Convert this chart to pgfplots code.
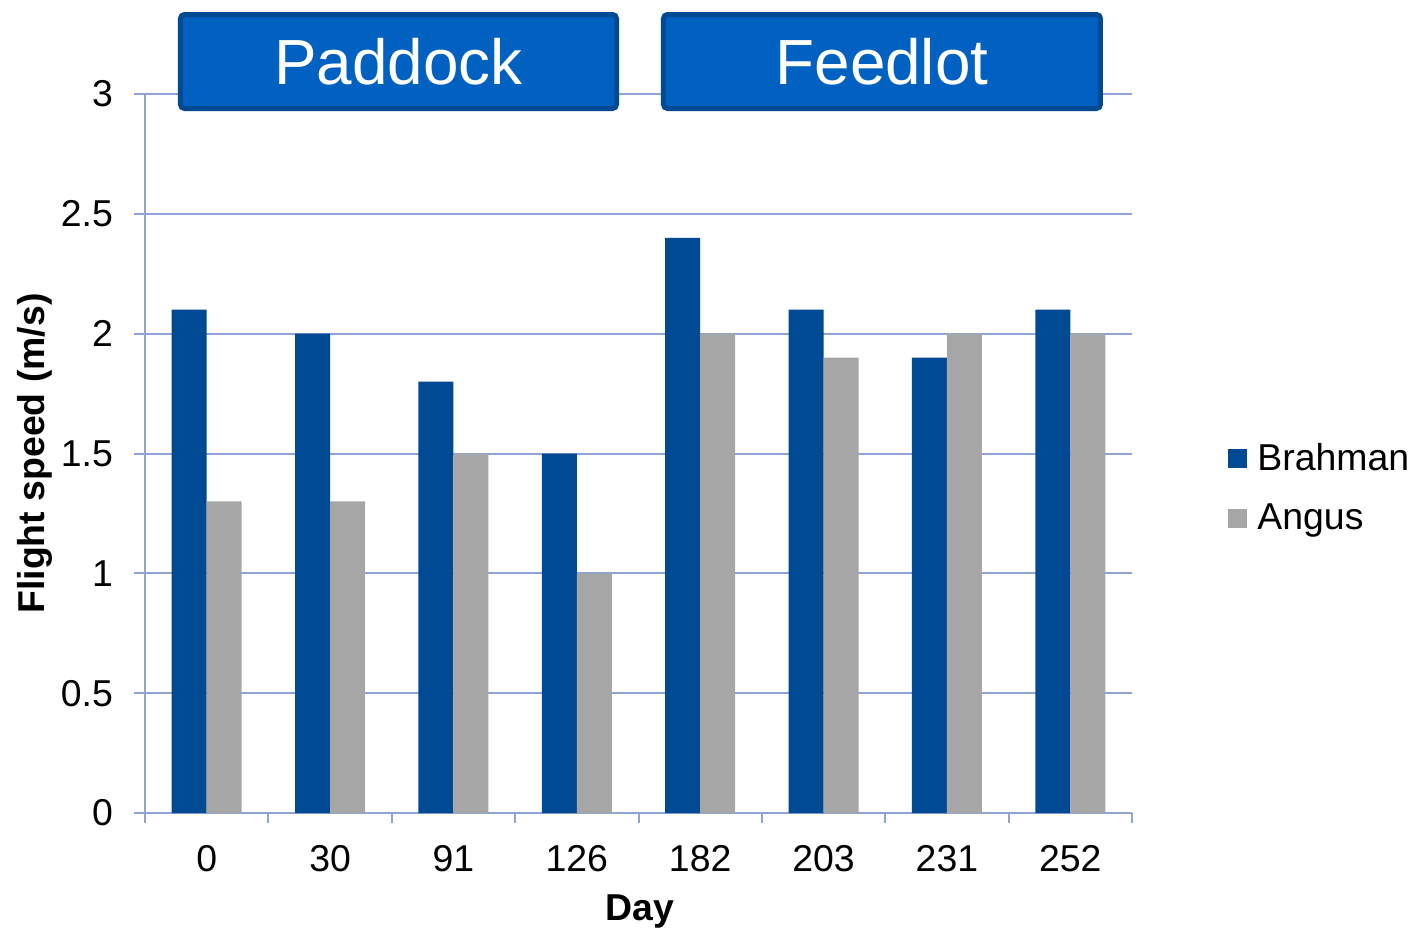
\documentclass[border=0pt]{standalone}
\usepackage{pgfplots}
\pgfplotsset{compat=1.18}
\usepackage{fontspec}
\setmainfont{Liberation Sans}
\definecolor{brah}{RGB}{0,74,148}
\definecolor{ang}{RGB}{166,166,166}
\definecolor{gridc}{RGB}{143,163,214}
\definecolor{boxfill}{RGB}{0,97,193}
\definecolor{boxdraw}{RGB}{0,74,148}
\newcommand{\fs}{\fontsize{18.7}{22}\selectfont}
\begin{document}
\begin{tikzpicture}
\useasboundingbox (-72.5pt,-57pt) rectangle (635.5pt,406.5pt);
\begin{axis}[
  at={(0,0)}, anchor=south west,
  scale only axis, width=493.5pt, height=359.5pt,
  clip=false,
  ybar=0pt, bar width=17.5pt,
  xmin=-0.5, xmax=7.5, ymin=0, ymax=3,
  enlarge x limits=false,
  xtick={0,...,7},
  xticklabels={0,30,91,126,182,203,231,252},
  minor xtick={-0.5,0.5,...,7.5},
  ytick={0,0.5,...,3},
  yticklabels={0,0.5,1,1.5,2,2.5,3},
  tick align=outside,
  major tick length=5.5pt, minor tick length=5pt,
  every major x tick/.append style={draw=none},
  axis x line*=bottom, axis y line*=left,
  axis line style={gridc, line width=1pt},
  every tick/.append style={gridc, line width=1pt},
  ymajorgrids, grid style={gridc, line width=1pt},
  every tick label/.append style={font=\fs, /pgf/number format/assume math mode=true},
  xticklabel style={yshift=-7pt},
  yticklabel style={xshift=-7pt},
  xlabel={Day}, ylabel={Flight speed (m/s)},
  label style={font=\fs\bfseries},
  xlabel style={at={(axis description cs:0.5015,-0.150)}, anchor=base},
  ylabel style={at={(axis description cs:-0.1115,0.5)}, anchor=center},
  legend style={at={(axis description cs:1.0973,0.452)}, anchor=west, draw=none, fill=none,
    font=\fs, inner sep=0pt, row sep=15pt, nodes={inner sep=0pt, anchor=west}, column sep=5pt},
  legend cell align=left,
  legend image code/.code={\fill[#1,draw=none] (0pt,-4.75pt) rectangle (9.5pt,4.75pt);},
]
\addplot[fill=brah, draw=none] coordinates {(0,2.1) (1,2.0) (2,1.8) (3,1.5) (4,2.4) (5,2.1) (6,1.9) (7,2.1)};
\addplot[fill=ang, draw=none] coordinates {(0,1.3) (1,1.3) (2,1.5) (3,1.0) (4,2.0) (5,1.9) (6,2.0) (7,2.0)};
\legend{Brahman, Angus}
\draw[fill=boxfill, draw=boxdraw, line width=2.5pt, rounded corners=2pt]
  (axis cs:-0.2123,2.9395) rectangle (axis cs:3.3217,3.3317);
\draw[fill=boxfill, draw=boxdraw, line width=2.5pt, rounded corners=2pt]
  (axis cs:3.7026,2.9395) rectangle (axis cs:7.2446,3.3317);
\node[text=white, font=\fontsize{31.9}{36}\selectfont, inner sep=0pt] at (axis cs:1.5547,3.1356) {Paddock};
\node[text=white, font=\fontsize{31.9}{36}\selectfont, inner sep=0pt] at (axis cs:5.4736,3.1356) {Feedlot};
\end{axis}
\end{tikzpicture}
\end{document}
